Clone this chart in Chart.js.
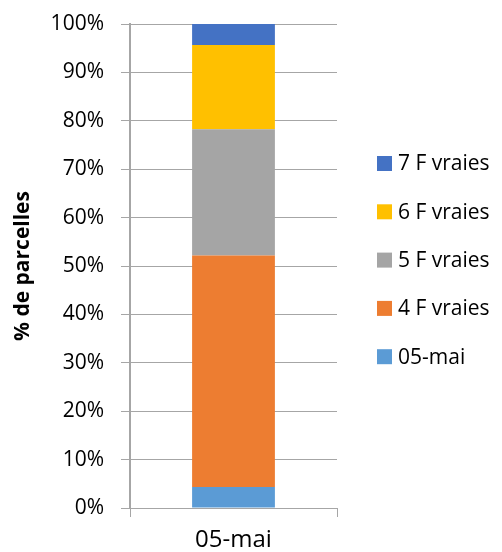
<!DOCTYPE html>
<html>
<head>
<meta charset="utf-8">
<script src="https://cdn.jsdelivr.net/npm/chart.js@4"></script>
<style>
  html, body { margin: 0; padding: 0; background: #fff; }
  #wrap { width: 502px; height: 552px; }
</style>
</head>
<body>
<div id="wrap"><canvas id="myStackChart" width="502" height="552"></canvas></div>
<script>
var labels = ['05-mai'];
var seriesNames = ['05-mai', '4 F vraies', '5 F vraies', '6 F vraies', '7 F vraies'];
var seriesValues = [4.35, 47.83, 26.09, 17.39, 4.35];
var seriesColors = ['#5b9bd5', '#ed7d31', '#a5a5a5', '#ffc000', '#4472c4'];

Chart.defaults.font.family = '"Open Sans", sans-serif';
Chart.defaults.font.size = 21;
Chart.defaults.color = '#000';

var datasets = seriesNames.map(function (name, i) {
    return {
        label: name,
        data: [seriesValues[i]],
        backgroundColor: seriesColors[i],
        borderWidth: 0,
        barPercentage: 0.4,
        categoryPercentage: 1.0
    };
});

// legend on the right, drawn from the datasets, top item = last series
var sideLegend = {
    id: 'sideLegend',
    afterDraw: function (chart) {
        var c = chart.ctx;
        var ds = chart.data.datasets;
        c.save();
        c.font = '21px "Open Sans", sans-serif';
        c.textBaseline = 'middle';
        for (var k = 0; k < ds.length; k++) {
            var d = ds[ds.length - 1 - k];
            var cy = 163.5 + k * 48.3;
            c.fillStyle = d.backgroundColor;
            c.fillRect(377, cy - 7.5, 15, 15);
            c.fillStyle = '#000';
            c.fillText(d.label, 398, cy + 1);
        }
        c.restore();
    }
};

var ctxS = document.getElementById('myStackChart').getContext('2d');
var myStackChart = new Chart(ctxS, {
    type: 'bar',
    data: {
        labels: labels,
        datasets: datasets
    },
    options: {
        responsive: false,
        animation: false,
        layout: {
            padding: { top: 24, left: 10, right: 165, bottom: 0 }
        },
        plugins: {
            tooltip: { enabled: false },
            legend: { display: false }
        },
        scales: {
            x: {
                stacked: true,
                afterFit: function (scale) { scale.height = 44; },
                grid: {
                    offset: true,
                    drawOnChartArea: false,
                    color: '#a6a6a6',
                    tickLength: 9
                },
                border: { color: '#a6a6a6', width: 1 },
                ticks: { padding: 9, font: { size: 24 } }
            },
            y: {
                stacked: true,
                min: 0,
                max: 100,
                afterFit: function (scale) {
                    scale.width = 120;
                    scale.paddingTop = 0;
                },
                ticks: {
                    stepSize: 10,
                    padding: 17,
                    callback: function (v) { return v + '%'; }
                },
                grid: { color: '#a6a6a6', tickLength: 9 },
                border: { color: '#a6a6a6', width: 2 },
                title: {
                    display: true,
                    text: '% de parcelles',
                    font: { size: 21, weight: 'bold' },
                    padding: { top: 0, bottom: 10 }
                }
            }
        }
    },
    plugins: [sideLegend]
});
</script>
</body>
</html>
